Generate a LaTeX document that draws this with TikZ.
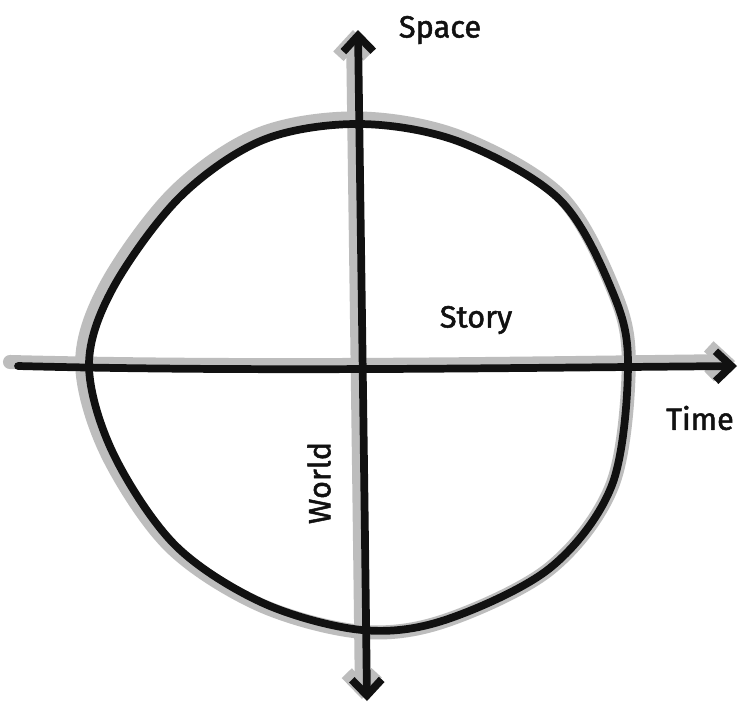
\documentclass[tikz,border=0pt]{standalone}
\usepackage{fontspec}
\setmainfont{Fira Sans}[AutoFakeBold=1.6]
\usetikzlibrary{arrows.meta}
\definecolor{sketchink}{HTML}{111111}
\definecolor{sketchshade}{HTML}{BDBDBD}

\begin{document}
\begin{tikzpicture}[x=0.02cm,y=-0.02cm,line cap=round,line join=round,
  font=\fontsize{17.5}{20}\selectfont\bfseries,text=sketchink,
  ink/.style={draw=sketchink,line width=4.4pt},
  shade/.style={draw=sketchshade,line width=8pt},
  barb/.tip={Straight Barb[length=9pt,width=17pt]},
  axis/.style={-barb},
  twoway/.style={barb-barb},
  lbl/.style={inner sep=0pt}]
\useasboundingbox (0,0) rectangle (744,708);
\fill[white] (0,0) rectangle (744,708);
\coordinate (west) at (18,366);
\coordinate (east) at (737,366);
\coordinate (south) at (367,701);
\coordinate (north) at (358,30);

% grey shadow behind the sketch
\begin{scope}[shift={(-3,-2)},scale around={1.014:(360,376)}]
  \draw[shade] plot[smooth cycle,tension=.55] coordinates {
    (360,124) (460,142) (560,200) (613,293) (628,365) (612,485) (550,568)
    (445,620) (362,630) (263,603) (175,545) (113,453) (89,365) (113,288)
    (180,197) (263,140)};
\end{scope}
\draw[shade,axis] ([shift={(-8,-4)}]west) .. controls (246,368) and (496,364) .. ([shift={(-2,-5)}]east);
\draw[shade,twoway] ([shift={(-5,-2)}]south) .. controls (359,450) and (356,250) .. ([shift={(-5,0)}]north);

% circle
\draw[ink] plot[smooth cycle,tension=.55] coordinates {
  (360,124) (460,142) (560,200) (613,293) (628,365) (612,485) (550,568)
  (445,620) (362,630) (263,603) (175,545) (113,453) (89,365) (113,288)
  (180,197) (263,140)};

% axes
\draw[ink,axis] (west) .. controls (250,372) and (500,368) .. (east);
\draw[ink,twoway] (south) .. controls (364,450) and (361,250) .. (north);

\node[lbl] (space) at (440,30) {Space};
\node[lbl] (story) at (476,320) {Story};
\node[lbl] (time) at (700,418) {Time};
\node[lbl,rotate=90] (world) at (319,483) {World};
\end{tikzpicture}
\end{document}
